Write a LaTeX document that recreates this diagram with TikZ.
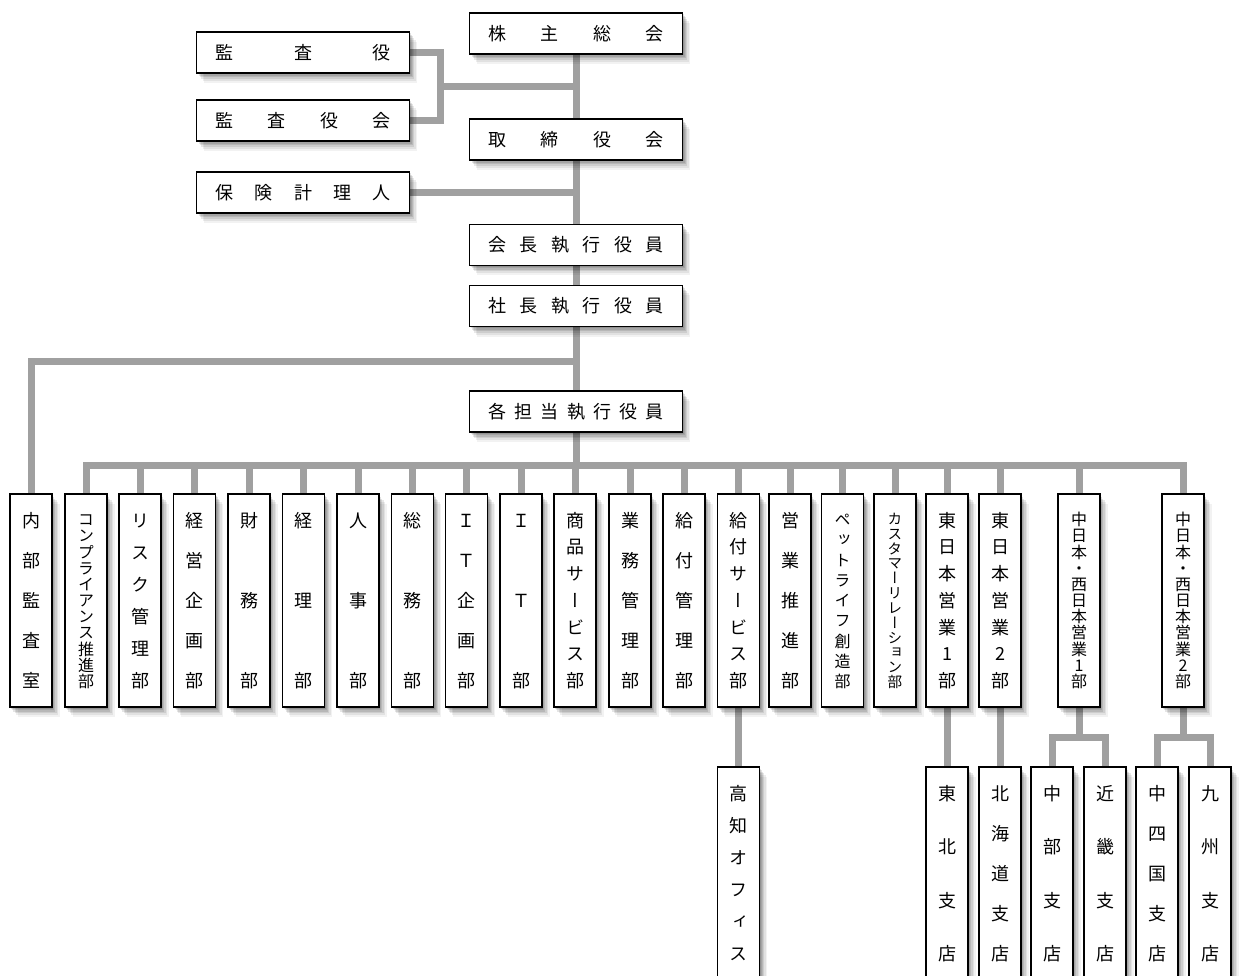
\documentclass[tikz,border=0pt]{standalone}
\usepackage{fontspec}
\newfontfamily\jp{Noto Sans CJK JP}
\newfontfamily\jpv[RawFeature=+vert]{Noto Sans CJK JP}
\usetikzlibrary{shadows}
\definecolor{linegray}{RGB}{160,160,160}
\pgfdeclarelayer{bg}
\pgfsetlayers{bg,main}
\makeatletter
\def\hsp#1{\hbox to 175pt{\hsp@first#1\relax}}
\def\hsp@first#1{#1\hsp@rest}
\def\hsp@rest#1{\ifx#1\relax\else\hfill#1\expandafter\hsp@rest\fi}
\newcommand\vst[2]{\parbox[c][176pt][s]{36pt}{\offinterlineskip\jpv\fontsize{#1}{#1}\selectfont\vst@first#2\relax}}
\def\vst@line#1{\hbox to\hsize{\hss\raisebox{0pt}[0.88em][0.12em]{#1}\hss}}
\def\vst@first#1{\vst@line{#1}\vst@rest}
\def\vst@rest#1{\ifx#1\relax\else\vskip 0pt plus 1fill minus 3pt\vst@line{#1}\expandafter\vst@rest\fi}
\makeatother
\tikzset{
  softshadow/.style={
    drop shadow={shadow xshift=1pt,shadow yshift=-1.5pt,opacity=.11,fill=black},
    drop shadow={shadow xshift=2pt,shadow yshift=-3pt,opacity=.11,fill=black},
    drop shadow={shadow xshift=3pt,shadow yshift=-4.5pt,opacity=.10,fill=black},
    drop shadow={shadow xshift=4.5pt,shadow yshift=-6pt,opacity=.09,fill=black},
    drop shadow={shadow xshift=6pt,shadow yshift=-8pt,opacity=.07,fill=black},
    drop shadow={shadow xshift=7.5pt,shadow yshift=-10pt,opacity=.05,fill=black}},
  hbox/.style={draw=black,line width=1.8pt,fill=white,inner sep=0pt,
    minimum width=213pt,minimum height=41pt,softshadow,
    font=\jp\fontsize{18pt}{18pt}\selectfont},
  vbox/.style={draw=black,line width=1.8pt,fill=white,inner sep=0pt,
    minimum width=42pt,minimum height=213pt,softshadow},
  conn/.style={draw=linegray,line width=7pt}
}
\begin{document}
\begin{tikzpicture}[x=1pt,y=-1pt]
\useasboundingbox (0,0) rectangle (1242,976);
\clip (0,0) rectangle (1242,976);
% top boxes
\node[hbox] (kabunushi) at (576,33.5) {\hsp{株主総会}};
\node[hbox] (kansayaku) at (303,52.5) {\hsp{監査役}};
\node[hbox] (kansayakukai) at (303,120.5) {\hsp{監査役会}};
\node[hbox] (torishimari) at (576,139.5) {\hsp{取締役会}};
\node[hbox] (hoken) at (303,192.5) {\hsp{保険計理人}};
\node[hbox] (kaicho) at (576,245) {\hsp{会長執行役員}};
\node[hbox] (shacho) at (576,306) {\hsp{社長執行役員}};
\node[hbox] (kakutanto) at (576,411.5) {\hsp{各担当執行役員}};
% departments
\node[vbox] (d1) at (31,600.5) {\vst{18pt}{内部監査室}};
\node[vbox] (d2) at (86,600.5) {\vst{16pt}{コンプライアンス推進部}};
\node[vbox] (d3) at (140,600.5) {\vst{18pt}{リスク管理部}};
\node[vbox] (d4) at (194.5,600.5) {\vst{18pt}{経営企画部}};
\node[vbox] (d5) at (249,600.5) {\vst{18pt}{財務部}};
\node[vbox] (d6) at (303.5,600.5) {\vst{18pt}{経理部}};
\node[vbox] (d7) at (358,600.5) {\vst{18pt}{人事部}};
\node[vbox] (d8) at (412.5,600.5) {\vst{18pt}{総務部}};
\node[vbox] (d9) at (466.5,600.5) {\vst{18pt}{ＩＴ企画部}};
\node[vbox] (d10) at (521,600.5) {\vst{18pt}{ＩＴ部}};
\node[vbox] (d11) at (575,600.5) {\vst{18pt}{商品サービス部}};
\node[vbox] (d12) at (630,600.5) {\vst{18pt}{業務管理部}};
\node[vbox] (d13) at (684,600.5) {\vst{18pt}{給付管理部}};
\node[vbox] (d14) at (738.5,600.5) {\vst{18pt}{給付サービス部}};
\node[vbox] (d15) at (790,600.5) {\vst{18pt}{営業推進部}};
\node[vbox] (d16) at (842.5,600.5) {\vst{16pt}{ペットライフ創造部}};
\node[vbox] (d17) at (895,600.5) {\vst{14.6pt}{カスタマーリレーション部}};
\node[vbox] (d18) at (947,600.5) {\vst{18pt}{東日本営業1部}};
\node[vbox] (d19) at (1000,600.5) {\vst{18pt}{東日本営業2部}};
\node[vbox] (d20) at (1079,600.5) {\vst{16pt}{中日本・西日本営業1部}};
\node[vbox] (d21) at (1183,600.5) {\vst{16pt}{中日本・西日本営業2部}};
% branches
\node[vbox] (b1) at (738.5,873.5) {\vst{18pt}{高知オフィス}};
\node[vbox] (b2) at (947,873.5) {\vst{18pt}{東北支店}};
\node[vbox] (b3) at (1000,873.5) {\vst{18pt}{北海道支店}};
\node[vbox] (b4) at (1052,873.5) {\vst{18pt}{中部支店}};
\node[vbox] (b5) at (1105,873.5) {\vst{18pt}{近畿支店}};
\node[vbox] (b6) at (1157,873.5) {\vst{18pt}{中四国支店}};
\node[vbox] (b7) at (1210,873.5) {\vst{18pt}{九州支店}};
% junction coordinates
\coordinate (kj) at (440,87);
\coordinate (naibuY) at (0,361);
\coordinate (busY) at (0,465);
\coordinate (subY) at (0,737);
\begin{pgfonlayer}{bg}
\draw[conn] (kabunushi.south) -- (torishimari.north);
\draw[conn] (torishimari.south) -- (kaicho.north);
\draw[conn] (kaicho.south) -- (shacho.north);
\draw[conn] (shacho.south) -- (kakutanto.north);
\draw[conn] (kakutanto.south) -- (kakutanto.south |- busY);
\draw[conn] (kansayaku.east) -| (kj);
\draw[conn] (kansayakukai.east) -| (kj);
\draw[conn] (kj) -- (kj -| kabunushi.south);
\draw[conn] (hoken.east) -- (hoken.east -| torishimari.south);
\draw[conn] (shacho.south |- naibuY) -| (d1.north);
\draw[conn] (d2.north) -- (d2.north |- busY) -- (d21.north |- busY) -- (d21.north);
\foreach \i in {3,...,20} \draw[conn] (d\i.north) -- (d\i.north |- busY);
\draw[conn] (d14.south) -- (b1.north);
\draw[conn] (d18.south) -- (b2.north);
\draw[conn] (d19.south) -- (b3.north);
\draw[conn] (d20.south) -- (d20.south |- subY);
\draw[conn] (b4.north) -- (b4.north |- subY) -- (b5.north |- subY) -- (b5.north);
\draw[conn] (d21.south) -- (d21.south |- subY);
\draw[conn] (b6.north) -- (b6.north |- subY) -- (b7.north |- subY) -- (b7.north);
\end{pgfonlayer}
\end{tikzpicture}
\end{document}
